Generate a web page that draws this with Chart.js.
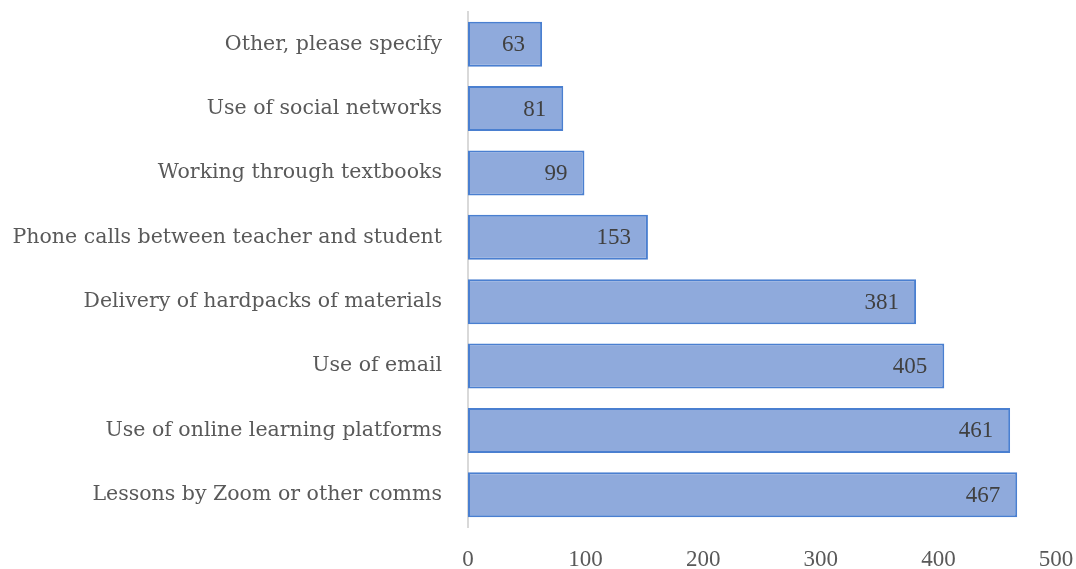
<!DOCTYPE html>
<html>
<head>
<meta charset="utf-8">
<script src="https://cdn.jsdelivr.net/npm/chart.js@4/dist/chart.umd.min.js"></script>
<style>
  html, body { margin: 0; padding: 0; background: #ffffff; }
  #wrap { width: 1076px; height: 569px; position: relative; }
</style>
</head>
<body>
<div id="wrap"><canvas id="chart"></canvas></div>
<script>
// Teaching methods used, with number of responses for each
const categories = [
  'Other, please specify',
  'Use of social networks',
  'Working through textbooks',
  'Phone calls between teacher and student',
  'Delivery of hardpacks of materials',
  'Use of email',
  'Use of online learning platforms',
  'Lessons by Zoom or other comms'
];
const responses = [63, 81, 99, 153, 381, 405, 461, 467];
const xTicks = [0, 100, 200, 300, 400, 500];

const LABEL_FONT = '"DejaVu Serif", "Liberation Serif", serif';
const NUM_FONT = '"Liberation Serif", "DejaVu Serif", serif';
const TEXT = '#595959';

// Writes each bar's value just inside its right end
const valueLabels = {
  id: 'valueLabels',
  afterDatasetsDraw(chart) {
    const ctx = chart.ctx;
    const meta = chart.getDatasetMeta(0);
    ctx.save();
    ctx.font = '23px ' + NUM_FONT;
    ctx.fillStyle = '#404040';
    ctx.textAlign = 'right';
    ctx.textBaseline = 'middle';
    meta.data.forEach((bar, i) => {
      ctx.fillText(String(responses[i]), bar.x - 17, bar.y + 1);
    });
    ctx.restore();
  }
};

// Keep the plot area exactly where the layout padding puts it
function noInnerPadding(scale) {
  scale.paddingLeft = 0;
  scale.paddingRight = 0;
  scale.paddingTop = 0;
  scale.paddingBottom = 0;
}

new Chart(document.getElementById('chart'), {
  type: 'bar',
  data: {
    labels: categories,
    datasets: [{
      data: responses,
      backgroundColor: '#8faadc',
      borderColor: '#4a7fd0',
      borderWidth: 2,
      borderSkipped: false,
      categoryPercentage: 1,
      barPercentage: 0.7
    }]
  },
  options: {
    indexAxis: 'y',
    responsive: true,
    maintainAspectRatio: false,
    animation: false,
    layout: { autoPadding: false, padding: { top: 12, right: 20, bottom: 0, left: 12 } },
    plugins: {
      legend: { display: false },
      tooltip: { enabled: false }
    },
    scales: {
      x: {
        min: 0,
        max: 500,
        afterBuildTicks(scale) { scale.ticks = xTicks.map(v => ({ value: v })); },
        afterFit(scale) { scale.height = 42; noInnerPadding(scale); },
        grid: { display: false },
        border: { display: false },
        ticks: { color: TEXT, font: { family: NUM_FONT, size: 23 }, padding: 11 }
      },
      y: {
        grid: { display: false },
        border: { display: true, color: '#d9d9d9', width: 2 },
        afterFit(scale) { scale.width = 456; noInnerPadding(scale); },
        ticks: { color: TEXT, font: { family: LABEL_FONT, size: 20.5 }, padding: 18 }
      }
    }
  },
  plugins: [valueLabels]
});
</script>
</body>
</html>
